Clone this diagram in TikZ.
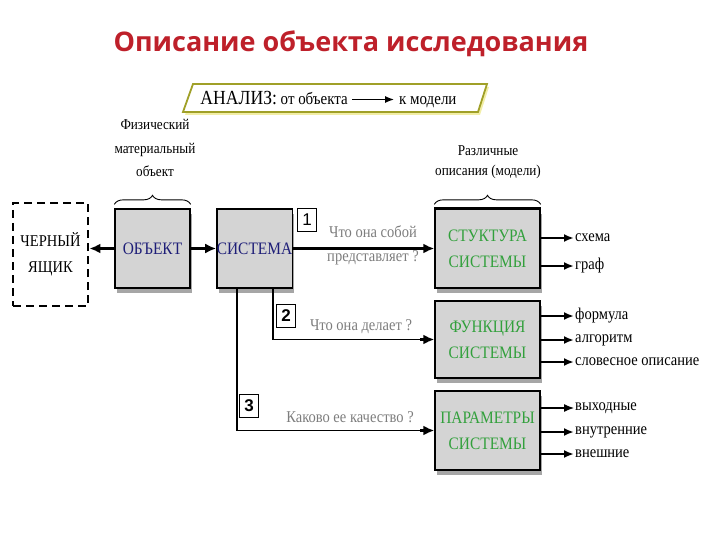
\documentclass[tikz,border=0pt]{standalone}
\usepackage{fontspec}
\setmainfont{Liberation Serif}[FakeStretch=0.88]
\newfontfamily\titlefont{Open Sans}
\newfontfamily\numfont{Liberation Sans}
\usetikzlibrary{arrows.meta,shadows,decorations.pathreplacing}
\definecolor{titlered}{RGB}{190,32,42}
\definecolor{boxgray}{RGB}{212,212,212}
\definecolor{navy}{RGB}{30,30,120}
\definecolor{grn}{RGB}{50,160,60}
\definecolor{qgray}{RGB}{125,125,125}
\definecolor{olive}{RGB}{160,160,40}
\tikzset{
  blk/.style={draw=black,line width=1.3pt,fill=boxgray,inner sep=0pt,align=center,
    drop shadow={shadow xshift=2pt,shadow yshift=-5pt,fill=black!35,opacity=1}},
  conn/.style={line width=2.2pt,-{Latex[length=11pt,width=10pt]}},
  outarr/.style={line width=2.2pt,-{Latex[length=10pt,width=8pt]}},
  outlab/.style={anchor=west,inner sep=1pt,font=\fontsize{16.5}{16.5}\selectfont},
  ques/.style={text=qgray,align=center,font=\fontsize{16.5}{24}\selectfont},
  numbox/.style={draw=black,line width=1.2pt,fill=white,minimum width=19pt,minimum height=23pt,inner sep=0pt,font=\numfont\fontsize{17}{17}\selectfont},
  brc/.style={decorate,decoration={brace,amplitude=9pt},line width=0.9pt},
  captext/.style={align=center,font=\fontsize{15}{23.5}\selectfont},
  boxtext/.style={font=\fontsize{17.5}{26}\selectfont}
}
\begin{document}
\begin{tikzpicture}[x=1pt,y=-1pt]
\useasboundingbox (0,0) rectangle (720,540);
% title
\node[font=\titlefont\bfseries\fontsize{27}{27}\selectfont,text=titlered] (title) at (351,44) {Описание объекта исследования};
% banner
\fill[yellow!60!olive!40] (185,115) -- (195,87) -- (489,87) -- (480,115) -- cycle;
\draw[olive,line width=1.8pt,fill=white] (183,112) -- (193,84) -- (487,84) -- (478,112) -- cycle;
\node[anchor=base east,inner sep=0pt,font=\fontsize{17}{17}\selectfont] (banA) at (348,105) {{\fontsize{20}{20}\selectfont АНАЛИЗ:} от объекта};
\node[anchor=base west,inner sep=0pt,font=\fontsize{17}{17}\selectfont] (banB) at (399,105) {к модели};
\draw[line width=1.2pt,-{Latex[length=9pt,width=7pt]}] ([xshift=4pt,yshift=5.5pt]banA.base east) -- ([xshift=-5pt,yshift=5.5pt]banB.base west);
% captions
\node[captext] (capL) at (155,148) {Физический\\материальный\\объект};
\node[captext,font=\fontsize{15}{20}\selectfont] (capR) at (488,162) {Различные\\описания (модели)};
% boxes
\node[draw=black,line width=2.8pt,dash pattern=on 8pt off 5pt,minimum width=75pt,minimum height=103pt,align=center,font=\fontsize{16.5}{26}\selectfont] (bb) at (50.5,254.5) {ЧЕРНЫЙ\\ЯЩИК};
\node[blk,boxtext,minimum width=75pt,minimum height=79pt,text=navy] (obj) at (152.5,248.5) {ОБЪЕКТ};
\node[blk,boxtext,minimum width=75pt,minimum height=79pt,text=navy] (sys) at (254.5,248.5) {СИСТЕМА};
\node[blk,boxtext,minimum width=105pt,minimum height=79pt,text=grn] (str) at (487.5,248.5) {СТУКТУРА\\СИСТЕМЫ};
\node[blk,boxtext,minimum width=105pt,minimum height=77pt,text=grn] (fun) at (487.5,339.5) {ФУНКЦИЯ\\СИСТЕМЫ};
\node[blk,boxtext,minimum width=105pt,minimum height=79pt,text=grn] (par) at (487.5,430.5) {ПАРАМЕТРЫ\\СИСТЕМЫ};
\draw[line width=2.5pt] (str.north west) -- (str.north east);
% braces
\draw[brc] ([yshift=4pt]obj.north west) -- ([yshift=4pt]obj.north east);
\draw[brc] ([yshift=4pt]str.north west) -- ([yshift=4pt]str.north east);
% number boxes
\node[numbox] (n1) at (307,220) {1};
\node[numbox,font=\numfont\bfseries\fontsize{17}{17}\selectfont] (n2) at (286,316) {2};
\node[numbox,font=\numfont\bfseries\fontsize{17}{17}\selectfont] (n3) at (249,406) {3};
% questions
\node[ques] (q1) at (373,245) {Что она собой\\представляет ?};
\node[ques] (q2) at (361,327) {Что она делает ?};
\node[ques] (q3) at (350,417) {Каково ее качество ?};
% connectors
\draw[conn] (obj.west) -- (obj.west -| bb.east);
\draw[conn] (obj.east) -- (sys.west);
\draw[conn] (sys.east) -- (str.west);
\coordinate (s2) at ([xshift=18.5pt]sys.south);
\coordinate (s3) at ([xshift=-17.5pt]sys.south);
\draw[line width=1.5pt] (s2) |- ([xshift=-12pt]fun.west);
\draw[line width=1.5pt] (s3) |- ([xshift=-12pt]par.west);
\draw[conn] ([xshift=-14pt]fun.west) -- (fun.west);
\draw[conn] ([xshift=-14pt]par.west) -- (par.west);
% outputs
\node[outlab] (o1) at (574,238) {схема};
\node[outlab] (o2) at (574,266) {граф};
\node[outlab] (o3) at (574,316) {формула};
\node[outlab] (o4) at (574,340) {алгоритм};
\node[outlab] (o5) at (574,362) {словесное описание};
\node[outlab] (o6) at (574,408) {выходные};
\node[outlab] (o7) at (574,432) {внутренние};
\node[outlab] (o8) at (574,454) {внешние};
\foreach \o/\b in {o1/str,o2/str,o3/fun,o4/fun,o5/fun,o7/par,o8/par}{
  \draw[outarr] (\o.west -| \b.east) -- (\o.west);
}
\draw[outarr,line width=1.2pt] (o6.west -| par.east) -- (o6.west);
\end{tikzpicture}
\end{document}
